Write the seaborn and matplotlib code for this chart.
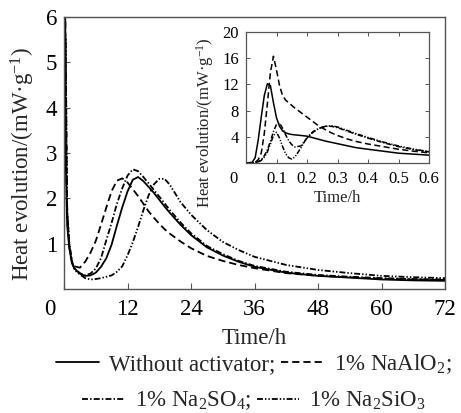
import numpy as np
import pandas as pd
import matplotlib
matplotlib.use("Agg")
import matplotlib.pyplot as plt
import matplotlib.transforms as mtrans
import seaborn as sns

# ---------------- data ----------------
series_names = ["Without activator;", "1% NaAlO$_2$;", "1% Na$_2$SO$_4$;", "1% Na$_2$SiO$_3$"]

t_main = [0, 0.1, 0.3, 0.6, 1, 1.5, 2, 3, 4, 5, 6, 7, 8, 9, 10, 11, 12, 13, 14, 15,
          16, 17, 18, 19, 20, 22, 24, 27, 30, 33, 36, 42, 48, 54, 60, 66, 72]
main_without = [0, 12, 3.0, 1.4, 0.9, 0.57, 0.45, 0.34, 0.29, 0.30, 0.36, 0.49, 0.68, 0.98,
                1.40, 1.80, 2.15, 2.41, 2.47, 2.38, 2.25, 2.12, 1.97, 1.82, 1.68, 1.42, 1.19,
                0.92, 0.74, 0.60, 0.49, 0.36, 0.29, 0.25, 0.21, 0.19, 0.18]
main_naalo2 = [0, 16, 4.0, 1.6, 0.95, 0.6, 0.5, 0.47, 0.60, 0.80, 1.06, 1.42, 1.80, 2.16,
               2.39, 2.44, 2.35, 2.20, 2.05, 1.88, 1.71, 1.57, 1.44, 1.32, 1.22, 1.05, 0.90,
               0.73, 0.62, 0.53, 0.46, 0.35, 0.29, 0.26, 0.23, 0.21, 0.20]
main_na2so4 = [0, 6, 5.5, 1.7, 1.0, 0.6, 0.45, 0.35, 0.30, 0.34, 0.45, 0.68, 1.08, 1.46,
               1.88, 2.22, 2.50, 2.64, 2.60, 2.47, 2.33, 2.18, 2.04, 1.89, 1.74, 1.47, 1.23,
               0.95, 0.77, 0.62, 0.51, 0.38, 0.31, 0.27, 0.24, 0.22, 0.21]
main_na2sio3 = [0, 4.5, 5.5, 1.8, 1.0, 0.6, 0.42, 0.32, 0.24, 0.21, 0.22, 0.24, 0.27, 0.30,
                0.38, 0.50, 0.74, 1.03, 1.37, 1.74, 2.07, 2.31, 2.43, 2.43, 2.30, 1.92, 1.64,
                1.30, 1.04, 0.86, 0.71, 0.53, 0.42, 0.35, 0.29, 0.26, 0.24]

t_inset = [0, 0.02, 0.03, 0.04, 0.05, 0.06, 0.07, 0.08, 0.09, 0.10, 0.11, 0.12, 0.13, 0.14,
           0.15, 0.16, 0.18, 0.20, 0.22, 0.24, 0.26, 0.28, 0.30, 0.33, 0.36, 0.40, 0.45,
           0.50, 0.55, 0.60]
in_without = [0, 0.1, 0.8, 3.5, 7.0, 10.3, 12.1, 11.8, 9.2, 6.9, 5.6, 4.9, 4.6, 4.45, 4.35,
              4.3, 4.2, 4.1, 3.85, 3.6, 3.35, 3.15, 2.95, 2.65, 2.35, 2.1, 1.8, 1.5, 1.35, 1.2]
in_naalo2 = [0, 0, 0.1, 0.5, 1.5, 4.5, 9.0, 13.8, 16.3, 14.2, 11.8, 10.3, 9.6, 9.2, 8.8,
             8.4, 7.7, 7.0, 6.3, 5.6, 5.1, 4.6, 4.2, 3.7, 3.3, 2.9, 2.5, 2.1, 1.8, 1.55]
in_na2so4 = [0, 0, 0.05, 0.2, 0.5, 1.1, 2.0, 3.3, 4.8, 5.9, 6.1, 5.3, 4.3, 3.4, 2.8, 2.45,
             2.6, 3.8, 4.7, 5.3, 5.6, 5.6, 5.4, 4.9, 4.4, 3.8, 3.1, 2.5, 2.05, 1.7]
in_na2sio3 = [0, 0, 0.05, 0.15, 0.4, 0.9, 1.7, 2.9, 4.2, 4.7, 3.8, 2.5, 1.4, 0.8, 0.6, 0.9,
              2.3, 3.9, 4.8, 5.3, 5.6, 5.7, 5.5, 5.0, 4.5, 3.9, 3.2, 2.6, 2.1, 1.75]

main_ticks_x = [0, 12, 24, 36, 48, 60, 72]
main_ticks_y = [1, 2, 3, 4, 5, 6]
inset_ticks_x = [0, 0.1, 0.2, 0.3, 0.4, 0.5, 0.6]
inset_ticks_y = [4, 8, 12, 16, 20]

# ---------------- style ----------------
sns.set_theme(style="ticks")
plt.rcParams["font.family"] = ["Liberation Serif", "DejaVu Serif"]
plt.rcParams["mathtext.fontset"] = "custom"
plt.rcParams["mathtext.rm"] = "Liberation Serif"
plt.rcParams["mathtext.it"] = "Liberation Serif:italic"
plt.rcParams["mathtext.bf"] = "Liberation Serif:bold"

frame_col = "#555555"
lw_main = 1.3
lw_in = 1.1
styles = ["-", (0, (4.0, 2.2)), (0, (3.3, 1.2, 0.8, 1.2)), (0, (3.3, 1.1, 0.8, 1.1, 0.8, 1.1))]

fig = plt.figure(figsize=(4.61, 4.13), dpi=100)
ax = fig.add_axes([64 / 461, 1 - 289 / 413, (445 - 64) / 461, (289 - 17) / 413])
axi = fig.add_axes([246 / 461, 1 - 163 / 413, (429 - 246) / 461, (163 - 32) / 413])

main_vals = [main_without, main_naalo2, main_na2so4, main_na2sio3]
in_vals = [in_without, in_naalo2, in_na2so4, in_na2sio3]

for name, vals, ls in zip(series_names, main_vals, styles):
    df = pd.DataFrame({"t": t_main, "v": vals})
    sns.lineplot(data=df, x="t", y="v", ax=ax, color="black", lw=lw_main,
                 linestyle=ls, label=name, legend=False, estimator=None, sort=False)
for name, vals, ls in zip(series_names, in_vals, styles):
    df = pd.DataFrame({"t": t_inset, "v": vals})
    sns.lineplot(data=df, x="t", y="v", ax=axi, color="black", lw=lw_in,
                 linestyle=ls, legend=False, estimator=None, sort=False)

# main axes
ax.set_xlim(0, 72)
ax.set_ylim(0, 6)
ax.set_xticks(main_ticks_x)
ax.set_yticks(main_ticks_y)
ax.tick_params(direction="in", length=4, width=0.8, colors=frame_col,
               labelcolor="black", labelsize=16.5)
ax.tick_params(axis="x", pad=7)
ax.tick_params(axis="y", pad=5)
for s in ax.spines.values():
    s.set_color(frame_col)
    s.set_linewidth(1.0)
ax.set_xlabel("Time/h", fontsize=16.5, labelpad=6)
ax.set_ylabel("Heat evolution/(mW·g$^{-1}$)", fontsize=16.5)
ax.yaxis.set_label_coords(-0.072, 0.46)

# inset axes
axi.set_xlim(0, 0.6)
axi.set_ylim(0, 20)
axi.set_xticks(inset_ticks_x)
axi.set_xticklabels(["0", "0.1", "0.2", "0.3", "0.4", "0.5", "0.6"])
axi.set_yticks(inset_ticks_y)
axi.tick_params(direction="in", length=3, width=0.7, colors=frame_col,
                labelcolor="black", labelsize=12, top=True, right=True)
axi.tick_params(axis="x", pad=6)
axi.tick_params(axis="y", pad=5)
for s in axi.spines.values():
    s.set_color(frame_col)
    s.set_linewidth(0.9)
axi.set_xlabel("Time/h", fontsize=12, labelpad=2)
axi.set_ylabel("Heat evolution/(mW·g$^{-1}$)", fontsize=12)
axi.yaxis.set_label_coords(-0.165, 0.31)

# shift the origin "0" labels to the left, as in the reference
for a, dx in ((ax, -14), (axi, -13)):
    lbl = a.get_xticklabels()[0]
    lbl.set_transform(lbl.get_transform() + mtrans.ScaledTranslation(dx / 100, 0, fig.dpi_scale_trans))

# legend in two centred rows
handles = ax.get_lines()[:4]
leg_kw = dict(loc="center", ncol=2, frameon=False, fontsize=16.5, handlelength=1.85,
              handletextpad=0.45, columnspacing=0.25, borderpad=0.0, borderaxespad=0.0)
leg1 = fig.legend(handles=handles[:2], labels=series_names[:2],
                  bbox_to_anchor=(0.551, 1 - 364 / 413), **leg_kw)
leg2 = fig.legend(handles=handles[2:], labels=series_names[2:],
                  bbox_to_anchor=(0.551, 1 - 401 / 413), **leg_kw)

fig.savefig("out.png", dpi=100)
